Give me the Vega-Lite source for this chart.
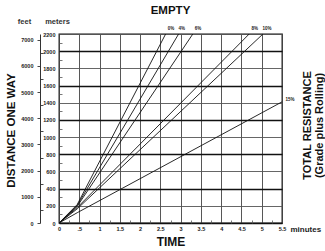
{
  "$schema": "https://vega.github.io/schema/vega-lite/v6.json",
  "width": 223,
  "height": 189,
  "autosize": "none",
  "padding": {"left": 59, "top": 34, "right": 43, "bottom": 28},
  "background": "white",
  "title": {"text": "EMPTY", "fontSize": 11.5, "fontWeight": "bold", "font": "Liberation Sans", "anchor": "middle", "offset": 1, "color": "#111"},
  "config": {"view": {"stroke": "#111", "strokeWidth": 1.3}, "font": "Liberation Sans"},
  "datasets": {
    "lines": [
      {"grade": "0%", "t": 0, "m": 0}, {"grade": "0%", "t": 0.45, "m": 215}, {"grade": "0%", "t": 2.63, "m": 2200},
      {"grade": "4%", "t": 0, "m": 0}, {"grade": "4%", "t": 0.45, "m": 205}, {"grade": "4%", "t": 2.95, "m": 2200},
      {"grade": "6%", "t": 0, "m": 0}, {"grade": "6%", "t": 0.45, "m": 195}, {"grade": "6%", "t": 3.3, "m": 2200},
      {"grade": "8%", "t": 0, "m": 0}, {"grade": "8%", "t": 0.45, "m": 180}, {"grade": "8%", "t": 4.69, "m": 2200},
      {"grade": "10%", "t": 0, "m": 0}, {"grade": "10%", "t": 0.45, "m": 165}, {"grade": "10%", "t": 5.03, "m": 2200},
      {"grade": "15%", "t": 0, "m": 0}, {"grade": "15%", "t": 0.45, "m": 120}, {"grade": "15%", "t": 5.5, "m": 1410}
    ],
    "labels": [
      {"label": "0%", "t": 2.76, "m": 2258},
      {"label": "4%", "t": 3.03, "m": 2258},
      {"label": "6%", "t": 3.43, "m": 2258},
      {"label": "8%", "t": 4.83, "m": 2258},
      {"label": "10%", "t": 5.13, "m": 2258},
      {"label": "15%", "t": 5.7, "m": 1432}
    ],
    "anchor": [{"t": 0, "m": 0, "ft": 0}]
  },
  "layer": [
    {
      "data": {"name": "lines"},
      "mark": {"type": "line", "color": "#111", "strokeWidth": 0.9},
      "encoding": {
        "x": {
          "field": "t", "type": "quantitative",
          "scale": {"domain": [0, 5.5], "nice": false, "zero": false},
          "axis": {
            "orient": "bottom",
            "values": [0, 0.25, 0.5, 0.75, 1, 1.25, 1.5, 1.75, 2, 2.25, 2.5, 2.75, 3, 3.25, 3.5, 3.75, 4, 4.25, 4.5, 4.75, 5, 5.25, 5.5],
            "labelExpr": "datum.value % 0.5 !== 0 ? '' : (datum.value === 0.5 ? '.5' : format(datum.value, '~g'))",
            "grid": true, "gridColor": "#444", "gridWidth": 0.9,
            "gridOpacity": {"condition": {"test": "datum.value % 0.5 !== 0", "value": 0}, "value": 1},
            "tickSize": {"condition": {"test": "datum.value % 0.5 !== 0", "value": -3}, "value": 0},
            "tickColor": "#555", "tickWidth": 0.8,
            "domain": false,
            "labelFontSize": 5.5, "labelFontWeight": "bold", "labelColor": "#222", "labelPadding": 3,
            "labelFlush": false, "labelOverlap": false, "labelBound": false,
            "title": "TIME", "titleFontSize": 12, "titleFont": "Liberation Sans",
            "titleFontWeight": "bold", "titleColor": "#111", "titleY": 22, "titleBaseline": "alphabetic"
          }
        },
        "y": {
          "field": "m", "type": "quantitative",
          "scale": {"domain": [0, 2200], "nice": false},
          "axis": {
            "orient": "left",
            "values": [0, 100, 200, 300, 400, 500, 600, 700, 800, 900, 1000, 1100, 1200, 1300, 1400, 1500, 1600, 1700, 1800, 1900, 2000, 2100, 2200],
            "labelExpr": "datum.value % 200 !== 0 ? '' : format(datum.value, 'd')",
            "grid": true,
            "gridColor": {"condition": {"test": "datum.value % 400 === 0", "value": "#111"}, "value": "#555"},
            "gridWidth": {"condition": {"test": "datum.value % 400 === 0", "value": 1.4}, "value": 0.9},
            "gridOpacity": {"condition": {"test": "datum.value % 200 !== 0", "value": 0}, "value": 1},
            "tickSize": {"condition": {"test": "datum.value % 200 !== 0", "value": -3}, "value": 0},
            "tickColor": "#555", "tickWidth": 0.8,
            "domain": false,
            "labelFontSize": 5.5, "labelFontWeight": "bold", "labelColor": "#222", "labelPadding": 4,
            "labelFlush": false, "labelOverlap": false, "labelBound": false,
            "title": "meters", "titleAngle": 0, "titleX": -2, "titleY": -13, "titleAlign": "center", "titleBaseline": "middle",
            "titleFontSize": 7.5, "titleFontWeight": "bold", "titleColor": "#333"
          }
        },
        "detail": {"field": "grade"}
      }
    },
    {
      "data": {"name": "labels"},
      "mark": {"type": "text", "fontSize": 4.5, "fontWeight": "bold", "color": "#222"},
      "encoding": {
        "x": {"field": "t", "type": "quantitative", "scale": {"domain": [0, 5.5], "nice": false, "zero": false}, "axis": null},
        "y": {"field": "m", "type": "quantitative", "scale": {"domain": [0, 2200], "nice": false}, "axis": null},
        "text": {"field": "label"}
      }
    },
    {
      "data": {"name": "anchor"},
      "mark": {"type": "point", "opacity": 0},
      "encoding": {
        "x": {
          "field": "t", "type": "quantitative", "scale": {"domain": [0, 5.5], "nice": false, "zero": false},
          "axis": {
            "orient": "bottom", "labels": false, "ticks": false, "domain": false, "grid": false,
            "title": "minutes", "titleX": 231, "titleY": 6, "titleAlign": "left", "titleBaseline": "middle",
            "titleFontSize": 8, "titleFontWeight": "bold", "titleColor": "#222"
          }
        },
        "y": {
          "field": "ft", "type": "quantitative", "scale": {"domain": [0, 7217.8], "nice": false},
          "axis": {
            "orient": "left", "offset": 19,
            "values": [0, 500, 1000, 1500, 2000, 2500, 3000, 3500, 4000, 4500, 5000, 5500, 6000, 6500, 7000],
            "labelExpr": "datum.value % 1000 !== 0 ? '' : format(datum.value, 'd')",
            "grid": false,
            "tickSize": {"condition": {"test": "datum.value % 1000 !== 0", "value": -3}, "value": 3},
            "tickColor": "#333", "tickWidth": 0.9,
            "domain": true, "domainColor": "#333", "domainWidth": 1,
            "labelFontSize": 5.5, "labelFontWeight": "bold", "labelColor": "#222", "labelPadding": 4,
            "labelFlush": false, "labelOverlap": false, "labelBound": false,
            "title": "feet", "titleAngle": 0, "titleX": -16, "titleY": -13, "titleAlign": "center", "titleBaseline": "middle",
            "titleFontSize": 7.5, "titleFontWeight": "bold", "titleColor": "#333"
          }
        }
      }
    },
    {
      "data": {"name": "anchor"},
      "mark": {"type": "point", "opacity": 0},
      "encoding": {
        "x": {"field": "t", "type": "quantitative", "scale": {"domain": [0, 5.5], "nice": false, "zero": false}, "axis": null},
        "y": {
          "field": "m", "type": "quantitative", "scale": {"domain": [0, 2200], "nice": false},
          "axis": {
            "orient": "right", "labels": false, "ticks": false, "domain": false, "grid": false,
            "title": ["TOTAL RESISTANCE", "(Grade plus Rolling)"],
            "titleAngle": 270, "titleX": 19, "titleY": 91, "titleAlign": "center", "titleBaseline": "top",
            "titleFontSize": 11, "titleFontWeight": "bold", "titleColor": "#111", "titleLineHeight": 12
          }
        }
      }
    },
    {
      "data": {"name": "anchor"},
      "mark": {"type": "point", "opacity": 0},
      "encoding": {
        "x": {"field": "t", "type": "quantitative", "scale": {"domain": [0, 5.5], "nice": false, "zero": false}, "axis": null},
        "y": {
          "field": "m", "type": "quantitative", "scale": {"domain": [0, 2200], "nice": false},
          "axis": {
            "orient": "left", "labels": false, "ticks": false, "domain": false, "grid": false,
            "title": "DISTANCE ONE WAY",
            "titleAngle": 270, "titleX": -54, "titleY": 96, "titleAlign": "center", "titleBaseline": "top",
            "titleFontSize": 11.5, "titleFont": "Liberation Sans",
            "titleFontWeight": "bold", "titleColor": "#111"
          }
        }
      }
    }
  ],
  "resolve": {"scale": {"y": "independent"}, "axis": {"x": "independent", "y": "independent"}}
}
